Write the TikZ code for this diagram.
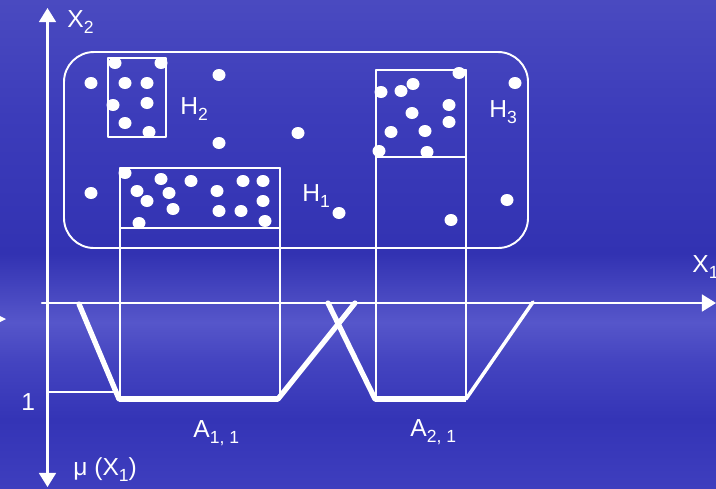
\documentclass[tikz,border=0pt]{standalone}
\usepackage{fontspec}
\setmainfont{Liberation Sans}
\usetikzlibrary{arrows.meta}

\definecolor{bgTop}{RGB}{74,74,192}
\definecolor{bgHigh}{RGB}{60,60,186}
\definecolor{bgMid}{RGB}{50,50,178}
\definecolor{bgBand}{RGB}{86,86,202}
\definecolor{bgLow}{RGB}{68,68,192}
\definecolor{bgDeep}{RGB}{52,52,182}
\definecolor{bgBottom}{RGB}{62,62,190}

\pgfdeclareverticalshading{bgblue}{100bp}{%
  color(0bp)=(bgBottom); color(25bp)=(bgBottom); color(32bp)=(bgDeep);
  color(38bp)=(bgLow); color(42bp)=(bgBand); color(49bp)=(bgMid);
  color(63bp)=(bgHigh); color(75bp)=(bgTop); color(100bp)=(bgTop)}

\newcommand\lowsub[1]{\raisebox{-3.6pt}{\fontsize{10}{12}\selectfont #1}}

\begin{document}
\begin{tikzpicture}[
  x=0.02cm,
  y=-0.02cm,
  line cap=round,
  line join=round,
  thin line/.style={
    draw=white,
    line width=1.1pt
  },
  axis/.style={
    draw=white,
    line width=1.2pt,
    -{Triangle[length=8pt,width=9.6pt]}
  },
  member/.style={
    draw=white,
    line width=3pt
  },
  dot/.style={
    fill=white
  },
  lbl/.style={
    text=white,
    font=\fontsize{14}{16}\selectfont,
    inner sep=0pt,
    anchor=base west
  }
]

% ------------------------------------------------
% Background
% ------------------------------------------------
\shade[shading=bgblue] (0,0) rectangle (716,488);
\useasboundingbox (0,0) rectangle (716,488);

% ------------------------------------------------
% Axes
% ------------------------------------------------
\coordinate (origin) at (47.5,303);
\coordinate (x2top) at (47.5,8);
\coordinate (mubottom) at (47.5,487);
\coordinate (x1left) at (42,303);
\coordinate (x1right) at (716,303);

\draw[axis] (origin) -- (x2top);
\draw[axis] (origin) -- (mubottom);
\draw[axis] (x1left) -- (x1right);

% cut-off arrow tip at the left edge
\fill[white] (0,316) -- (6,319) -- (0,322) -- cycle;

\node[lbl] (x2lbl) at (67,27) {X\lowsub{2}};
\node[lbl] (x1lbl) at (692,272) {X\lowsub{1}};
\node[lbl] (mulbl) at (73,475) {μ (X\lowsub{1})};
\node[lbl] (onelbl) at (21,410) {1};

% ------------------------------------------------
% Data region and hyperboxes
% ------------------------------------------------
\draw[thin line,rounded corners=0.6cm] (64,52) rectangle (528,248);

% H2
\draw[thin line] (108,58) rectangle (166,137);
\node[lbl] (h2lbl) at (180,114) {H\lowsub{2}};

% H1, projected down onto X1
\draw[thin line] (120,168) -- (280,168);
\draw[thin line] (120,228) -- (280,228);
\draw[thin line] (120,168) -- (120,398);
\draw[thin line] (280,168) -- (280,398);
\node[lbl] (h1lbl) at (302,201) {H\lowsub{1}};

% H3, projected down onto X1
\draw[thin line] (376,70) -- (466,70);
\draw[thin line] (376,157) -- (466,157);
\draw[thin line] (376,70) -- (376,398);
\draw[thin line] (466,70) -- (466,398);
\node[lbl] (h3lbl) at (489,117) {H\lowsub{3}};

% Data points
\foreach \px/\py in {
    91/83, 219/75, 219/143, 298/133, 91/193, 339/213, 515/83, 507/200, 451/220,
    115/63, 161/63, 125/83, 147/83, 113/105, 147/103, 125/123, 149/132,
    459/73, 381/92, 401/91, 413/84, 449/105, 412/113, 449/122, 391/132,
    425/131, 379/151, 427/152,
    125/173, 161/179, 191/181, 137/191, 169/193, 147/201, 173/209, 217/191,
    243/181, 263/181, 263/201, 219/211, 241/211, 265/221, 139/223}
  \fill[dot] (\px,\py) circle[x radius=6.5, y radius=6];

% ------------------------------------------------
% Membership functions
% ------------------------------------------------
\coordinate (oneleft) at (47.5,392);
\coordinate (oneright) at (115,392);
\draw[thin line] (oneleft) -- (oneright);

% A11
\coordinate (a1start) at (79,304);
\coordinate (a1left) at (119,399);
\coordinate (a1right) at (278,399);
\coordinate (a1end) at (355,303);
\draw[member] (a1start) -- (a1left);
\draw[member,line width=3.4pt,line cap=butt] (a1left) -- (a1right);
\draw[member] (a1right) -- (a1end);
\node[lbl] (a1lbl) at (193,437) {A\lowsub{1, 1}};

% A21
\coordinate (a2start) at (328,303);
\coordinate (a2left) at (375,399);
\coordinate (a2right) at (466,399);
\coordinate (a2end) at (533,302);
\draw[member] (a2start) -- (a2left);
\draw[member,line width=3.4pt,line cap=butt] (a2left) -- (a2right);
\draw[member,line width=2pt] (a2right) -- (a2end);
\node[lbl] (a2lbl) at (410,436) {A\lowsub{2, 1}};

\end{tikzpicture}
\end{document}
